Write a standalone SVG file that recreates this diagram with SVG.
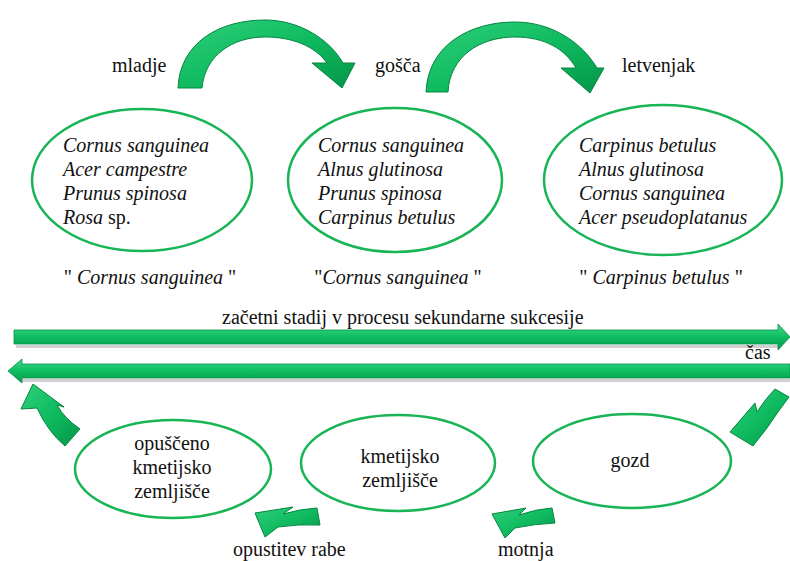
<svg xmlns="http://www.w3.org/2000/svg" width="790" height="561" viewBox="0 0 790 561" font-family="'Liberation Serif', 'DejaVu Serif', 'Times New Roman', serif">
<defs>
<linearGradient id="gv" x1="0" y1="0" x2="0" y2="1">
<stop offset="0" stop-color="#3fd98a"/>
<stop offset="0.45" stop-color="#12c064"/>
<stop offset="1" stop-color="#009a4a"/>
</linearGradient>
<linearGradient id="ga" x1="0" y1="0" x2="1" y2="1">
<stop offset="0" stop-color="#2fd07c"/>
<stop offset="0.5" stop-color="#10bb60"/>
<stop offset="1" stop-color="#03964a"/>
</linearGradient>
</defs>
<style>
.ell{fill:none;stroke:#18b455;stroke-width:2.5}
.t{font-family:'Liberation Serif','DejaVu Serif','Times New Roman',serif;font-size:20px;fill:#111}
.i{font-style:italic}
.c{text-anchor:middle}
.arr{fill:url(#ga);stroke:#07863f;stroke-width:1}
.bar{fill:url(#gv);stroke:#08924a;stroke-width:0.8}
.sh{fill:#bdbdbd;opacity:0.7}
</style>

<g id="connectors">
<path id="arc1" class="arr" d="M178,88 C180,42 220,20 265,20 C300,20 330,40 343,63 L355,63 L342,88 L312,63 L327,63 C315,46 292,37 265,37 C233,37 205,55 202,88 Z"/>
<path id="arc2" class="arr" d="M426,92 C428,45 470,22 515,22 C553,22 583,44 597,68 L604,68 L590,93 L561,68 L576,68 C565,49 545,37 515,37 C480,37 450,56 448,92 Z"/>
<path class="sh" d="M16,345 L778,345 L778,348 L16,348 Z"/>
<path id="barTop" class="bar" d="M14,330 L778,330 L778,324 L790,337 L778,350 L778,344 L14,344 Z"/>
<path class="sh" d="M22,379 L790,379 L790,382 L22,382 Z"/>
<path id="barBottom" class="bar" d="M790,364 L22,364 L22,359 L8,371 L22,383 L22,378 L790,378 Z"/>
<path id="aUL" class="arr" d="M33,384 L21,409 L37,408 Q48,432 65,446 L80,429 Q64,418 57,405 L64,407 Z"/>
<path id="aR" class="arr" d="M730,432 L755,403 L757,412 Q766,398 775,389 L789,397 Q777,413 767,428 L753,446 Z"/>
<path id="aB1" class="arr" d="M265,537 L255,513 L293,507 L283,514 Q300,509 317,508 L320,525 Q298,524 278,527 Z"/>
<path id="aB2" class="arr" d="M505,538 L492,514 L526,508 L519,515 Q536,509 552,508 L555,523 Q534,524 515,528 Z"/>
</g>

<g id="lab-mladje"><text class="t" x="112" y="72">mladje</text></g>
<g id="lab-gosca"><text class="t" x="375" y="72">gošča</text></g>
<g id="lab-letvenjak"><text class="t" x="622" y="72">letvenjak</text></g>

<g id="node1">
<ellipse class="ell" cx="142" cy="180" rx="110" ry="71"/>
<text class="t i" x="63" y="152">Cornus sanguinea</text>
<text class="t i" x="63" y="176">Acer campestre</text>
<text class="t i" x="63" y="200">Prunus spinosa</text>
<text class="t" x="63" y="224"><tspan class="i">Rosa</tspan> sp.</text>
</g>
<g id="node2">
<ellipse class="ell" cx="395" cy="180" rx="107" ry="72"/>
<text class="t i" x="318" y="152">Cornus sanguinea</text>
<text class="t i" x="318" y="176">Alnus glutinosa</text>
<text class="t i" x="318" y="200">Prunus spinosa</text>
<text class="t i" x="318" y="224">Carpinus betulus</text>
</g>
<g id="node3">
<ellipse class="ell" cx="663" cy="180" rx="119" ry="75"/>
<text class="t i" x="579" y="152">Carpinus betulus</text>
<text class="t i" x="579" y="176">Alnus glutinosa</text>
<text class="t i" x="579" y="200">Cornus sanguinea</text>
<text class="t i" x="579" y="224">Acer pseudoplatanus</text>
</g>

<g id="q1"><text class="t c" x="150" y="284">" <tspan class="i">Cornus sanguinea</tspan> "</text></g>
<g id="q2"><text class="t c" x="398" y="284">"<tspan class="i">Cornus sanguinea</tspan> "</text></g>
<g id="q3"><text class="t c" x="661" y="284">" <tspan class="i">Carpinus betulus</tspan> "</text></g>

<g id="lab-proces"><text class="t" x="222" y="324">začetni stadij v procesu sekundarne sukcesije</text></g>
<g id="lab-cas"><text class="t" x="745" y="359">čas</text></g>

<g id="node-opusceno">
<ellipse class="ell" cx="173" cy="469" rx="98" ry="49"/>
<text class="t c" x="172" y="450">opuščeno</text>
<text class="t c" x="172" y="474">kmetijsko</text>
<text class="t c" x="172" y="498">zemljišče</text>
</g>
<g id="node-kmetijsko">
<ellipse class="ell" cx="398" cy="463" rx="97" ry="48"/>
<text class="t c" x="400" y="463">kmetijsko</text>
<text class="t c" x="400" y="487">zemljišče</text>
</g>
<g id="node-gozd">
<ellipse class="ell" cx="632" cy="461" rx="99" ry="47"/>
<text class="t c" x="630" y="467">gozd</text>
</g>

<g id="lab-opustitev"><text class="t" x="233" y="556">opustitev rabe</text></g>
<g id="lab-motnja"><text class="t" x="498" y="556">motnja</text></g>
</svg>
